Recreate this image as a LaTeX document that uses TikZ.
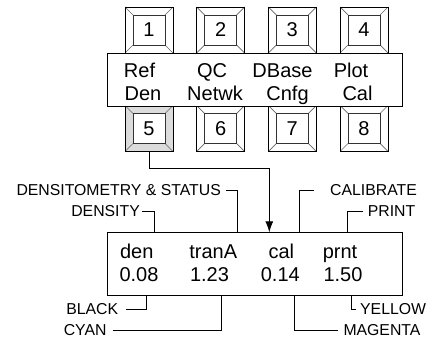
\documentclass[tikz,border=0pt]{standalone}
\usepackage{fontspec}
\setmainfont{Liberation Sans}
\usetikzlibrary{arrows.meta}
\newcommand\keyfont{\fontsize{20}{24}\selectfont}
\newcommand\lblfont{\fontsize{15.8}{19}\selectfont}
\definecolor{pressed}{HTML}{DCDCDC}
\tikzset{
  frame/.style={draw=black, line width=0.9pt},
  bevelline/.style={draw=black!60, line width=0.7pt},
  keycap/.style={frame, fill=#1, minimum width=48pt, minimum height=46pt,
    inner sep=0pt, font=\keyfont,
    path picture={
      \path (path picture bounding box.north west) coordinate (pNW)
            (path picture bounding box.north east) coordinate (pNE)
            (path picture bounding box.south west) coordinate (pSW)
            (path picture bounding box.south east) coordinate (pSE);
      \draw[bevelline] (pNW) -- ([shift={(8pt,-8pt)}]pNW)
                       (pNE) -- ([shift={(-8pt,-8pt)}]pNE)
                       (pSW) -- ([shift={(8pt,8pt)}]pSW)
                       (pSE) -- ([shift={(-8pt,8pt)}]pSE);
      \draw[draw=black!80, line width=0.8pt, fill=white]
        ([shift={(8pt,-8pt)}]pNW) rectangle ([shift={(-8pt,8pt)}]pSE);
    }},
  keycap/.default=white,
  panel/.style={frame, fill=white, inner sep=0pt},
  big/.style={font=\keyfont, inner sep=0pt, anchor=base},
  lbl/.style={font=\lblfont, inner sep=0pt},
  leader/.style={draw=black, line width=0.9pt},
}
\begin{document}
\begin{tikzpicture}[x=1pt, y=-1pt]
\useasboundingbox (0,0) rectangle (436,339);

% upper row of keys
\node[keycap] (k1) at (149,30) {1};
\node[keycap] (k2) at (220.7,30) {2};
\node[keycap] (k3) at (292.3,30) {3};
\node[keycap] (k4) at (364,30) {4};

% lower row of keys (key 5 is the pressed one)
\node[keycap=pressed] (k5) at (149,128.5) {5};
\node[keycap] (k6) at (220.7,128.5) {6};
\node[keycap] (k7) at (292.3,128.5) {7};
\node[keycap] (k8) at (364,128.5) {8};

% menu panel between the key rows
\node[panel, minimum width=295.4pt, minimum height=53.7pt] (menu) at (255,79.85) {};
\node[big] (mRef)   at (139.5,77.3) {Ref};
\node[big] (mDen)   at (143,100.7)  {Den};
\node[big] (mQC)    at (212,77.3)   {QC};
\node[big] (mNet)   at (215,100.7)  {Netwk};
\node[big] (mDB)    at (282.5,77.3) {DBase};
\node[big] (mCnfg)  at (287.5,100.7){Cnfg};
\node[big] (mPlot)  at (351,77.3)   {Plot};
\node[big] (mCal)   at (357.5,100.7){Cal};

% display window
\node[panel, minimum width=295pt, minimum height=63.4pt] (disp) at (254.8,264) {};
\node[big] (dDen)   at (136.7,258) {den};
\node[big] (dTran)  at (213.3,258) {tranA};
\node[big] (dCal)   at (281.3,258) {cal};
\node[big] (dPrnt)  at (340,258)   {prnt};
\node[big] (vK)     at (139,281.3) {0.08};
\node[big] (vC)     at (209.5,281.3) {1.23};
\node[big] (vM)     at (280.3,281.3) {0.14};
\node[big] (vY)     at (343,281.3) {1.50};

% key 5 selects the display
\coordinate (arrowEnd) at (269.3,232.3);
\draw[leader, -{Latex[length=11pt,width=8pt]}] (k5.south) -- ++(0,17) -| (arrowEnd);

% leader end points on the display border
\coordinate (tStat)  at (237.7,232.3);
\coordinate (tDens)  at (154,232.3);
\coordinate (tCal)   at (299.3,232.3);
\coordinate (tPrint) at (347.7,232.3);
\coordinate (bBlack) at (146.7,295.7);
\coordinate (bCyan)  at (221,295.7);
\coordinate (bMag)   at (294,295.7);
\coordinate (bYel)   at (351.7,295.7);

% labels above the display
\node[lbl, anchor=east] (lStat)  at (221,190.5) {DENSITOMETRY \& STATUS};
\node[lbl, anchor=east] (lDens)  at (140,211.3) {DENSITY};
\node[lbl, anchor=west] (lCal)   at (330,190.5) {CALIBRATE};
\node[lbl, anchor=west] (lPrint) at (367.7,211) {PRINT};
\draw[leader] ([xshift=5pt]lStat.east)   -| (tStat);
\draw[leader] ([xshift=2pt]lDens.east)   -| (tDens);
\draw[leader] ([xshift=-15.7pt]lCal.west) -| (tCal);
\draw[leader] ([xshift=-4.4pt]lPrint.west) -| (tPrint);

% labels below the display
\node[lbl, anchor=east] (lBlack) at (118.3,309)  {BLACK};
\node[lbl, anchor=east] (lCyan)  at (106.7,330.3) {CYAN};
\node[lbl, anchor=west] (lMag)   at (343.3,330.3)  {MAGENTA};
\node[lbl, anchor=west] (lYel)   at (360,309)    {YELLOW};
\draw[leader] ([xshift=7.7pt]lBlack.east) -| (bBlack);
\draw[leader] ([xshift=6pt]lCyan.east)    -| (bCyan);
\draw[leader] ([xshift=-5pt]lMag.west)    -| (bMag);
\draw[leader] ([xshift=-4.3pt]lYel.west)  -| (bYel);
\end{tikzpicture}
\end{document}
